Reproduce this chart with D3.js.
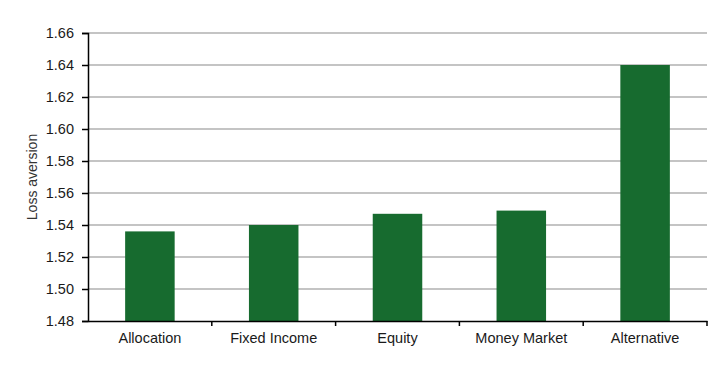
<!DOCTYPE html>
<html><head><meta charset="utf-8">
<script src="https://cdn.jsdelivr.net/npm/d3@7"></script>
<style>body{margin:0;background:#fff;font-family:"Liberation Sans",Arial,sans-serif;}</style>
</head><body><svg id="c" width="720" height="365"></svg>
<script>
const categories = ["Allocation","Fixed Income","Equity","Money Market","Alternative"];
const values = [1.536, 1.540, 1.547, 1.549, 1.640];
const yTicks = [1.48,1.50,1.52,1.54,1.56,1.58,1.60,1.62,1.64,1.66];

const svg = d3.select("#c");
const m = {left:88, right:13, top:33, bottom:44};
const W = 720, H = 365;
const x = d3.scaleBand().domain(categories).range([m.left, W - m.right]).padding(0);
const y = d3.scaleLinear().domain([1.48,1.66]).range([H - m.bottom, m.top]);

// grid
svg.append("g").selectAll("line").data(yTicks.slice(1)).join("line")
  .attr("x1", m.left).attr("x2", W - m.right)
  .attr("y1", d=>y(d)).attr("y2", d=>y(d))
  .attr("stroke", "#c4c4c4").attr("stroke-width", 2);

// bars
const bw = x.bandwidth()*0.4;
svg.append("g").selectAll("rect").data(categories).join("rect")
  .attr("x", (d)=>x(d) + x.bandwidth()/2 - bw/2)
  .attr("width", bw)
  .attr("y", (d,i)=>y(values[i]))
  .attr("height", (d,i)=>y(1.48) - y(values[i]))
  .attr("fill", "#176b2f");

// y axis
const ya = svg.append("g").attr("transform",`translate(${m.left},0)`)
  .call(d3.axisLeft(y).tickValues(yTicks).tickFormat(d3.format(".2f")).tickSize(6).tickPadding(8));
ya.select(".domain").attr("stroke","#000").attr("stroke-width",1.5);
ya.selectAll(".tick line").attr("stroke","#000").attr("stroke-width",1.5);
ya.selectAll("text").attr("font-size",14.5).attr("fill","#1a1a1a").attr("font-family","Liberation Sans, Arial, sans-serif");

// x axis
const xa = svg.append("g").attr("transform",`translate(0,${y(1.48)})`)
  .call(d3.axisBottom(x).tickSize(0).tickPadding(12));
xa.select(".domain").attr("stroke","#000").attr("stroke-width",1.5);
xa.selectAll("text").attr("font-size",14.5).attr("fill","#1a1a1a").attr("font-family","Liberation Sans, Arial, sans-serif");
// boundary ticks
const bounds = categories.map(c=>x(c)).concat([x(categories[categories.length-1]) + x.bandwidth()]);
svg.append("g").selectAll("line").data(bounds.slice(1)).join("line")
  .attr("x1",d=>d).attr("x2",d=>d)
  .attr("y1", y(1.48)).attr("y2", y(1.48)+5)
  .attr("stroke","#000").attr("stroke-width",1.5);

// y label
svg.append("text")
  .attr("transform",`translate(37,${(y(1.48)+y(1.66))/2}) rotate(-90)`)
  .attr("text-anchor","middle")
  .attr("font-size",14).attr("fill","#333")
  .text("Loss aversion");
</script></body></html>
